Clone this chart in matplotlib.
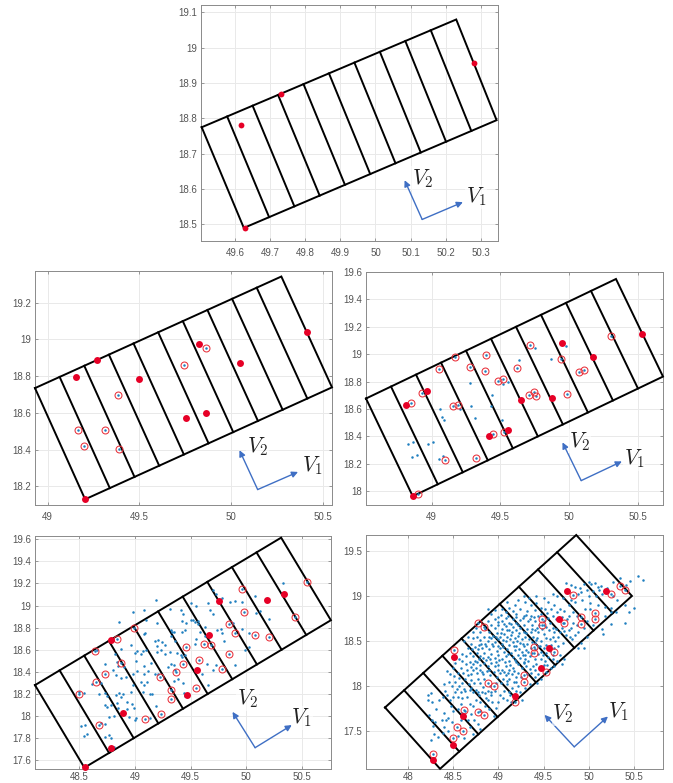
import matplotlib
matplotlib.use('Agg')
import matplotlib.pyplot as plt
import numpy as np

plt.rcParams['font.family'] = ['Liberation Sans', 'DejaVu Sans']
plt.rcParams['mathtext.fontset'] = 'cm'

W, H = 673, 783
BLUE = '#1f7fc0'
ARROW = '#3f6fc4'

# plot boxes in pixels: left, right, top, bottom
boxes = [(201, 498, 5, 241), (35, 332, 271, 505), (366, 663, 272, 505),
         (35, 331, 536, 769), (366, 663, 535, 769)]
xlims = [(49.503, 50.349), (48.931, 50.549), (48.522, 50.682), (48.101, 50.761), (47.53, 50.826)]
ylims = [(18.453, 19.121), (18.099, 19.372), (17.90, 19.60), (17.519, 19.63), (17.079, 19.677)]
xticks = [[49.6, 49.7, 49.8, 49.9, 50, 50.1, 50.2, 50.3], [49, 49.5, 50, 50.5],
          [49, 49.5, 50, 50.5], [48.5, 49, 49.5, 50, 50.5], [48, 48.5, 49, 49.5, 50, 50.5]]
yticks = [[18.5, 18.6, 18.7, 18.8, 18.9, 19, 19.1], [18.2, 18.4, 18.6, 18.8, 19, 19.2],
          [18, 18.2, 18.4, 18.6, 18.8, 19, 19.2, 19.4, 19.6],
          [17.6, 17.8, 18, 18.2, 18.4, 18.6, 18.8, 19, 19.2, 19.4, 19.6],
          [17.5, 18, 18.5, 19, 19.5]]
# gap under the x axis, the bottom row sits close to the image edge
xpads = [5, 5, 5, 2.5, 2.5]

# grid corners: left, top, right, bottom
corners = [[(49.505, 18.775), (50.23, 19.08), (50.345, 18.795), (49.625, 18.49)],
           [(48.931, 18.735), (50.273, 19.342), (50.549, 18.739), (49.204, 18.13)],
           [(48.522, 18.677), (50.34, 19.549), (50.682, 18.837), (48.862, 17.964)],
           [(48.101, 18.279), (50.313, 19.615), (50.76, 18.867), (48.545, 17.531)],
           [(47.741, 17.762), (49.863, 19.677), (50.481, 19.0), (48.352, 17.081)]]
n_cells = 10

# V1 / V2 arrows: origin, V1 tip, V2 tip, V1 label, V2 label
arrows = [[(50.133, 18.514), (50.249, 18.563), (50.083, 18.625), (50.287, 18.578), (50.133, 18.63)],
          [(50.144, 18.183), (50.364, 18.279), (50.045, 18.397), (50.44, 18.312), (50.144, 18.415)],
          [(50.087, 18.078), (50.383, 18.218), (49.951, 18.357), (50.473, 18.235), (50.073, 18.364)],
          [(50.079, 17.712), (50.409, 17.917), (49.876, 18.037), (50.499, 17.983), (50.01, 18.152)],
          [(49.841, 17.325), (50.215, 17.662), (49.511, 17.68), (50.333, 17.72), (49.715, 17.69)]]

red_1 = [(49.618, 18.78), (49.73, 18.87), (50.28, 18.958), (49.627, 18.49)]
open_1 = []
dots_1 = []

red_2 = [(49.156, 18.797), (49.271, 18.888), (49.498, 18.786), (49.824, 18.975), (50.047, 18.873),
         (50.411, 19.038), (49.753, 18.571), (49.862, 18.598), (49.204, 18.13)]
open_2 = [(49.86, 18.951), (49.745, 18.859), (49.382, 18.696), (49.165, 18.507), (49.311, 18.509),
          (49.198, 18.42), (49.389, 18.406)]
dots_2 = []

red_3 = [(48.816, 18.629), (48.968, 18.733), (49.413, 18.40), (49.556, 18.444), (49.646, 18.665),
         (49.874, 18.68), (49.944, 19.085), (50.17, 18.983), (50.529, 19.148), (48.864, 17.964)]
open_3 = [(48.852, 18.643), (48.93, 18.718), (49.051, 18.893), (49.167, 18.983), (49.155, 18.619),
          (49.192, 18.629), (49.277, 18.908), (49.393, 18.998), (49.391, 18.881), (49.481, 18.806),
          (49.517, 18.82), (49.619, 18.896), (49.716, 19.07), (49.706, 18.706), (49.743, 18.721),
          (49.757, 18.694), (49.985, 18.709), (49.942, 18.966), (50.068, 18.869), (50.104, 18.883),
          (50.301, 19.131), (49.447, 18.42), (49.522, 18.43), (49.325, 18.245), (49.1, 18.228),
          (48.9, 17.978)]
dots_3 = [(49.061, 18.604), (49.078, 18.544), (49.09, 18.517), (49.279, 18.791), (49.286, 18.619),
          (49.318, 18.532), (49.437, 18.704), (49.432, 18.624), (49.51, 18.519), (49.517, 18.782),
          (49.553, 18.799), (49.636, 18.956), (49.752, 19.046), (49.864, 18.968), (49.978, 19.061),
          (48.825, 18.342), (48.862, 18.357), (48.973, 18.345), (49.007, 18.359), (48.854, 18.252),
          (48.893, 18.267), (49.051, 18.238), (49.085, 18.255), (49.206, 18.604)]

red_4 = [(48.547, 17.534), (48.781, 17.706), (48.889, 18.026), (48.784, 18.689), (49.468, 18.189),
         (49.555, 18.412), (49.669, 18.732), (49.756, 19.042), (50.187, 19.048), (50.337, 19.106)]
open_4 = [(48.499, 18.201), (48.649, 18.306), (48.637, 18.584), (48.73, 18.376), (48.679, 17.918),
          (48.841, 18.695), (48.877, 18.481), (48.994, 18.801), (49.093, 17.974), (49.234, 18.017),
          (49.228, 18.357), (49.324, 18.149), (49.324, 18.237), (49.372, 18.4), (49.435, 18.466),
          (49.459, 18.62), (49.552, 18.252), (49.579, 18.511), (49.621, 18.656), (49.687, 18.638),
          (49.78, 18.427), (49.846, 18.557), (49.846, 18.834), (49.894, 18.747), (49.963, 19.151),
          (49.981, 18.94), (50.076, 18.732), (50.205, 18.719), (50.433, 18.894), (50.547, 19.214)]
dots_4 = [(48.51, 17.91), (48.55, 17.92), (48.54, 17.82), (48.57, 17.84), (48.5, 18.22), (48.54, 18.21),
          (48.61, 18.29), (48.69, 18.30), (48.68, 18.2), (48.73, 18.21), (48.75, 18.18), (48.73, 18.10),
          (48.75, 18.08), (48.78, 18.1), (48.69, 17.94), (48.73, 17.93), (48.73, 17.81), (48.77, 17.83),
          (48.78, 17.8), (48.81, 17.72), (48.73, 18.47), (48.66, 18.6), (48.86, 18.85), (48.98, 18.94),
          (49.08, 18.96), (49.19, 19.05), (49.1, 18.87), (49.2, 18.84), (49.08, 18.74), (49.09, 18.75),
          (48.96, 18.64), (48.87, 18.61), (48.82, 18.56), (48.84, 18.49), (48.85, 18.45), (48.9, 18.44),
          (48.8, 18.42), (48.83, 18.37), (48.87, 18.34), (48.92, 18.35), (48.98, 18.38), (49.01, 18.5),
          (49.0, 18.57), (49.02, 18.59), (49.05, 18.56), (49.07, 18.59), (49.1, 18.6), (49.02, 18.41),
          (49.08, 18.45), (49.14, 18.48), (49.12, 18.41), (49.08, 18.38), (49.05, 18.31), (49.08, 18.28),
          (49.11, 18.31), (49.07, 18.22), (49.13, 18.2), (49.15, 18.2), (48.98, 18.28), (48.96, 18.22),
          (48.89, 18.2), (48.86, 18.21), (48.83, 18.19), (48.87, 18.17), (48.93, 18.13), (48.97, 18.11),
          (48.93, 18.06), (48.99, 18.07), (48.84, 18.12), (48.85, 18.07), (48.81, 18.0), (48.77, 17.99),
          (48.95, 17.99), (49.0, 17.96), (49.01, 17.98), (49.13, 17.98), (49.19, 18.09), (49.18, 18.38),
          (49.21, 18.38), (49.18, 18.68), (49.2, 18.63), (49.21, 18.69), (49.23, 18.6), (49.24, 18.67),
          (49.27, 18.64), (49.27, 18.56), (49.2, 18.58), (49.31, 18.97), (49.32, 18.78), (49.33, 18.76),
          (49.35, 18.76), (49.32, 18.72), (49.36, 18.68), (49.31, 18.58), (49.38, 18.57), (49.41, 18.55),
          (49.42, 18.53), (49.45, 18.55), (49.32, 18.47), (49.35, 18.46), (49.3, 18.44), (49.36, 18.42),
          (49.39, 18.33), (49.35, 18.32), (49.43, 18.3), (49.44, 18.21), (49.45, 18.18), (49.42, 18.86),
          (49.41, 18.96), (49.43, 18.92), (49.46, 18.84), (49.45, 18.78), (49.42, 18.76), (49.5, 18.87),
          (49.52, 18.87), (49.54, 18.85), (49.57, 18.86), (49.5, 19.02), (49.55, 19.0), (49.57, 18.83),
          (49.58, 18.76), (49.63, 18.72), (49.55, 18.7), (49.54, 18.65), (49.63, 18.81), (49.66, 19.02),
          (49.67, 18.96), (49.7, 18.92), (49.74, 18.78), (49.77, 18.79), (49.78, 18.75), (49.8, 18.68),
          (49.65, 18.47), (49.7, 18.42), (49.73, 18.46), (49.66, 18.28), (49.6, 18.38), (49.9, 18.46),
          (49.7, 19.14), (49.73, 19.1), (49.78, 19.07), (49.9, 19.04), (49.96, 19.03), (49.85, 19.03),
          (49.88, 18.84), (49.96, 18.79), (50.02, 18.75), (49.99, 18.6), (50.02, 18.62), (50.08, 19.09),
          (50.09, 18.93), (50.12, 18.95), (50.2, 18.88), (50.33, 19.2)]

red_5 = [(48.27, 17.174), (48.5, 17.348), (48.611, 17.669), (48.504, 18.327), (49.189, 17.891),
         (49.467, 18.198), (49.556, 18.423), (49.67, 18.741), (49.759, 19.052), (50.193, 19.059)]
open_5 = [(48.27, 17.24), (48.496, 17.418), (48.615, 17.736), (48.544, 17.547), (48.604, 17.503),
          (48.774, 17.717), (48.837, 17.677), (48.889, 18.039), (48.948, 17.998), (48.504, 18.397),
          (48.778, 18.701), (48.837, 18.66), (49.189, 17.828), (49.278, 18.12), (49.278, 18.05),
          (49.393, 18.434), (49.396, 18.368), (49.481, 18.745), (49.485, 18.678), (49.526, 18.157),
          (49.615, 18.383), (49.73, 18.70), (49.822, 19.011), (49.919, 18.763), (49.919, 18.693),
          (50.07, 18.811), (50.07, 18.741), (50.252, 19.018), (50.344, 19.111), (50.404, 19.07)]
dots_5 = [(50.55, 19.22), (50.6, 19.18), (50.35, 19.2), (50.46, 19.17), (50.42, 19.12), (50.27, 19.16),
          (49.75, 19.14), (49.8, 19.12), (49.85, 19.1), (49.9, 19.09), (49.95, 19.13), (50.0, 19.16),
          (50.03, 19.13), (50.07, 19.14), (50.1, 19.1), (50.14, 19.11), (50.2, 19.09), (50.12, 19.07),
          (50.05, 19.05), (49.98, 19.07), (49.92, 19.04), (49.88, 19.02), (50.0, 19.0), (50.08, 19.0),
          (50.15, 19.02), (50.27, 19.0), (50.32, 18.95), (49.6, 19.02), (49.65, 19.0), (49.72, 18.98),
          (49.8, 18.96), (49.85, 18.93), (49.78, 18.9), (49.93, 18.95), (50.02, 18.92), (50.1, 18.9),
          (50.18, 18.88), (50.25, 18.87), (50.3, 18.82), (50.4, 18.9), (50.5, 18.87), (50.45, 18.82),
          (50.25, 18.69), (50.16, 18.58), (50.15, 18.63), (50.05, 18.68), (49.98, 18.72), (49.95, 18.65),
          (49.98, 18.55), (49.88, 18.6), (49.92, 18.48), (49.88, 18.42), (49.95, 18.42), (49.82, 18.52),
          (49.78, 18.62), (49.75, 18.57), (49.72, 18.48), (49.68, 18.35), (49.73, 18.3), (49.65, 18.28),
          (49.7, 18.25), (49.62, 18.22), (49.58, 18.2), (49.6, 18.3), (49.55, 18.32), (49.52, 18.28),
          (49.47, 18.3), (49.42, 18.25), (49.38, 18.22), (49.33, 18.28), (49.36, 18.15), (49.32, 18.13),
          (49.4, 18.1), (49.47, 18.08), (49.43, 18.03), (49.35, 18.02), (49.3, 17.98), (49.22, 18.0),
          (49.24, 17.93), (49.2, 18.05), (49.15, 17.98), (49.1, 18.02), (49.06, 17.95), (49.02, 17.9),
          (49.1, 17.85), (49.14, 17.82), (49.0, 17.82), (48.97, 17.76), (48.93, 17.82), (48.88, 17.85),
          (48.9, 17.75), (48.85, 17.78), (48.95, 17.67), (48.8, 17.82), (48.75, 17.85), (48.72, 17.78),
          (48.68, 17.8), (48.73, 17.62), (48.77, 17.58), (48.8, 17.52), (48.72, 17.47), (48.68, 17.55),
          (48.66, 17.62), (48.63, 17.72), (48.58, 17.8), (48.55, 17.75), (48.5, 17.72), (48.47, 17.78),
          (48.44, 17.65), (48.48, 17.6), (48.42, 17.62), (48.4, 17.55), (48.37, 17.62), (48.44, 17.5),
          (48.38, 17.48), (48.3, 17.6), (48.26, 17.62), (48.23, 17.68), (48.27, 17.56), (48.28, 17.47),
          (48.25, 17.4), (48.33, 17.43), (48.22, 17.9), (48.25, 17.92), (48.22, 17.85), (48.26, 17.82),
          (48.31, 17.75), (48.34, 17.85), (48.38, 17.88), (48.41, 17.95), (48.43, 17.9), (48.46, 17.85),
          (48.5, 17.88), (48.52, 17.93), (48.55, 17.88), (48.58, 17.93), (48.6, 17.87), (48.63, 17.95),
          (48.65, 17.88), (48.68, 17.96), (48.72, 17.93), (48.75, 17.96), (48.78, 17.9), (48.82, 17.93),
          (48.85, 17.92), (48.88, 17.95), (48.92, 17.93), (48.96, 17.95), (48.4, 18.02), (48.45, 18.05),
          (48.48, 18.0), (48.52, 18.05), (48.56, 18.0), (48.6, 18.03), (48.63, 18.08), (48.67, 18.02),
          (48.7, 18.07), (48.73, 18.03), (48.77, 18.08), (48.8, 18.03), (48.84, 18.08), (48.43, 18.17),
          (48.46, 18.13), (48.5, 18.2), (48.55, 18.15), (48.58, 18.2), (48.61, 18.14), (48.65, 18.18),
          (48.69, 18.13), (48.72, 18.18), (48.76, 18.14), (48.8, 18.18), (48.83, 18.13), (48.87, 18.17),
          (48.91, 18.12), (48.95, 18.16), (48.98, 18.1), (49.02, 18.14), (49.05, 18.08), (49.08, 18.12),
          (49.12, 18.08), (49.15, 18.13), (49.19, 18.1), (49.22, 18.15), (49.26, 18.2), (49.16, 18.2),
          (49.12, 18.18), (49.08, 18.22), (49.04, 18.18), (49.0, 18.23), (48.96, 18.22), (48.92, 18.26),
          (48.88, 18.22), (48.84, 18.26), (48.8, 18.23), (48.76, 18.27), (48.72, 18.24), (48.68, 18.27),
          (48.64, 18.24), (48.6, 18.28), (48.56, 18.3), (48.52, 18.26), (48.6, 18.36), (48.64, 18.33),
          (48.68, 18.37), (48.72, 18.33), (48.76, 18.37), (48.8, 18.33), (48.84, 18.37), (48.88, 18.32),
          (48.92, 18.36), (48.96, 18.31), (49.0, 18.35), (49.04, 18.3), (49.08, 18.33), (49.12, 18.28),
          (49.16, 18.32), (49.2, 18.27), (49.24, 18.31), (49.28, 18.27), (49.3, 18.34), (49.26, 18.38),
          (49.22, 18.35), (49.18, 18.4), (49.14, 18.37), (49.1, 18.41), (49.06, 18.38), (49.02, 18.42),
          (48.98, 18.39), (48.94, 18.44), (48.9, 18.41), (48.86, 18.45), (48.82, 18.42), (48.78, 18.46),
          (48.74, 18.43), (48.7, 18.47), (48.66, 18.42), (48.62, 18.5), (48.66, 18.55), (48.72, 18.53),
          (48.76, 18.55), (48.8, 18.51), (48.84, 18.54), (48.88, 18.5), (48.92, 18.53), (48.96, 18.49),
          (49.0, 18.52), (49.04, 18.47), (49.08, 18.5), (49.12, 18.46), (49.16, 18.49), (49.2, 18.45),
          (49.24, 18.48), (49.28, 18.44), (49.32, 18.47), (49.36, 18.42), (49.33, 18.38), (49.4, 18.48),
          (49.44, 18.44), (49.47, 18.5), (49.43, 18.53), (49.38, 18.55), (49.34, 18.52), (49.3, 18.55),
          (49.26, 18.52), (49.22, 18.56), (49.18, 18.53), (49.14, 18.57), (49.1, 18.54), (49.06, 18.58),
          (49.02, 18.55), (48.98, 18.59), (48.94, 18.56), (48.9, 18.6), (48.85, 18.63), (48.8, 18.6),
          (48.75, 18.64), (48.72, 18.6), (48.88, 18.72), (48.92, 18.68), (48.96, 18.64), (49.0, 18.68),
          (49.04, 18.63), (49.08, 18.67), (49.12, 18.62), (49.16, 18.66), (49.2, 18.62), (49.24, 18.65),
          (49.28, 18.6), (49.32, 18.63), (49.36, 18.6), (49.4, 18.62), (49.44, 18.6), (49.5, 18.58),
          (49.53, 18.53), (49.5, 18.42), (49.53, 18.46), (49.57, 18.52), (49.6, 18.55), (49.63, 18.5),
          (49.66, 18.55), (49.68, 18.6), (49.64, 18.63), (49.6, 18.65), (49.56, 18.62), (49.53, 18.66),
          (49.5, 18.72), (49.45, 18.68), (49.41, 18.72), (49.37, 18.68), (49.33, 18.72), (49.28, 18.68),
          (49.24, 18.73), (49.2, 18.7), (49.16, 18.74), (49.12, 18.7), (49.08, 18.76), (49.04, 18.72),
          (49.0, 18.77), (48.96, 18.74), (48.92, 18.8), (48.96, 18.84), (48.88, 18.85), (49.04, 18.85),
          (49.08, 18.82), (49.12, 18.87), (49.16, 18.83), (49.2, 18.8), (49.24, 18.86), (49.28, 18.78),
          (49.32, 18.83), (49.36, 18.78), (49.4, 18.84), (49.44, 18.78), (49.55, 18.76), (49.6, 18.78),
          (49.64, 18.74), (49.58, 18.85), (49.52, 18.85), (49.47, 18.87), (49.42, 18.92), (49.36, 18.9),
          (49.3, 18.93), (49.22, 18.95), (49.18, 18.9), (49.1, 18.93), (49.28, 19.0), (49.34, 18.98),
          (49.42, 19.0), (49.5, 18.98), (49.55, 18.93), (49.62, 18.9), (49.68, 18.86), (49.73, 18.83),
          (49.78, 18.78), (49.83, 18.82), (49.87, 18.78), (49.83, 18.7), (49.87, 18.68), (49.72, 18.7),
          (49.62, 18.42), (49.66, 18.45), (49.6, 18.35), (49.47, 18.38), (49.44, 18.36), (49.4, 18.3),
          (49.28, 18.26), (49.26, 17.85), (49.12, 17.93), (48.58, 17.62), (48.4, 17.7), (48.55, 17.45),
          (48.62, 17.42), (50.4, 18.7), (50.25, 18.82), (50.18, 18.78), (50.02, 18.85), (49.96, 18.86),
          (48.93, 18.47), (48.99, 18.45), (49.05, 18.43), (49.11, 18.36), (49.17, 18.44), (49.23, 18.41),
          (49.27, 18.35), (49.31, 18.4), (49.37, 18.37), (49.41, 18.41), (49.35, 18.33), (49.29, 18.3),
          (49.22, 18.24), (49.18, 18.29), (49.13, 18.23), (49.07, 18.27), (49.01, 18.29), (48.97, 18.27),
          (48.91, 18.3), (48.86, 18.29), (48.83, 18.31), (48.78, 18.3), (48.74, 18.28), (48.7, 18.21),
          (48.75, 18.2), (48.82, 18.16), (48.9, 18.18), (48.99, 18.18), (49.06, 18.16), (49.11, 18.15),
          (49.17, 18.17), (49.25, 18.1), (49.31, 18.22), (49.35, 18.19), (49.41, 18.18), (49.44, 18.13),
          (49.5, 18.23), (49.54, 18.23), (49.49, 18.34), (49.57, 18.39), (49.53, 18.37), (49.58, 18.46),
          (49.46, 18.45), (49.42, 18.51), (49.37, 18.49), (49.27, 18.47), (49.21, 18.5), (49.13, 18.52),
          (49.05, 18.51), (48.97, 18.54), (48.89, 18.55), (48.85, 18.47), (48.81, 18.47), (48.77, 18.41),
          (48.71, 18.41), (49.03, 18.59), (49.09, 18.62), (49.15, 18.6), (49.23, 18.59), (49.31, 18.59),
          (49.37, 18.63), (49.43, 18.65), (49.48, 18.63), (49.51, 18.68), (49.57, 18.7), (49.35, 18.74),
          (49.27, 18.75), (49.19, 18.77), (49.11, 18.78), (49.03, 18.79), (48.99, 18.71), (49.06, 18.69),
          (49.14, 18.69), (49.22, 18.68), (49.31, 18.79), (49.39, 18.77), (49.47, 18.8), (49.54, 18.81),
          (49.65, 18.82), (49.7, 18.77), (49.76, 18.74), (49.71, 18.65), (49.73, 18.61), (49.79, 18.55),
          (49.62, 18.6), (49.81, 18.65), (49.85, 18.57), (48.66, 18.12), (48.56, 18.09), (48.51, 18.11),
          (48.7, 17.98), (48.62, 17.97), (48.54, 17.97), (48.77, 17.93), (48.83, 17.99), (48.91, 18.0),
          (48.97, 18.03), (49.03, 18.03), (49.09, 18.06), (49.17, 18.05), (48.59, 17.7), (48.69, 17.69),
          (48.92, 17.9), (48.86, 17.87), (48.8, 17.72), (49.05, 17.87), (49.13, 17.9), (49.2, 17.95)]

panels = [(red_1, open_1, dots_1), (red_2, open_2, dots_2), (red_3, open_3, dots_3),
          (red_4, open_4, dots_4), (red_5, open_5, dots_5)]


def draw_grid(ax, corner):
    left, top, right, bottom = [np.array(c) for c in corner]
    outline = np.array([left, top, right, bottom, left])
    ax.plot(outline[:, 0], outline[:, 1], color='k', lw=1.4, solid_joinstyle='miter', clip_on=False, zorder=3)
    for i in range(1, n_cells):
        frac = i / n_cells
        a = left + (top - left) * frac
        b = bottom + (right - bottom) * frac
        ax.plot([a[0], b[0]], [a[1], b[1]], color='k', lw=1.4, zorder=3)


def draw_arrows(ax, arrow):
    origin, tip1, tip2, lab1, lab2 = arrow
    for tip in (tip1, tip2):
        ax.annotate('', xy=tip, xytext=origin, zorder=6,
                    arrowprops=dict(arrowstyle='-|>', color=ARROW, lw=1.0, shrinkA=0, shrinkB=0, mutation_scale=9))
    ax.text(*lab1, r'$V_1$', fontsize=15.5, color='#222222', ha='center', va='center', zorder=7,
            bbox=dict(fc='white', ec='none', pad=0.5, alpha=0.6))
    ax.text(*lab2, r'$V_2$', fontsize=15.5, color='#222222', ha='center', va='center', zorder=7,
            bbox=dict(fc='white', ec='none', pad=0.5, alpha=0.6))


fig = plt.figure(figsize=(W / 100, H / 100), dpi=100)

for i, (red, circ, dots) in enumerate(panels):
    l, r, t, b = boxes[i]
    ax = fig.add_axes([l / W, 1 - b / H, (r - l) / W, (b - t) / H])
    ax.set_xlim(xlims[i])
    ax.set_ylim(ylims[i])
    ax.set_xticks(xticks[i])
    ax.set_yticks(yticks[i])
    ax.set_xticklabels([f'{v:g}' for v in xticks[i]])
    ax.set_yticklabels([f'{v:g}' for v in yticks[i]])
    ax.tick_params(direction='in', length=2.5, width=0.5, color='#777777', labelcolor='#555555',
                   labelsize=7, top=True, right=True, pad=3)
    ax.tick_params(axis='x', pad=xpads[i])
    ax.grid(True, color='#e9e9e9', lw=0.7)
    ax.set_axisbelow(True)
    for sp in ax.spines.values():
        sp.set_color('#8a8a8a')
        sp.set_linewidth(0.7)

    draw_grid(ax, corners[i])
    if dots:
        d = np.array(dots)
        ax.plot(d[:, 0], d[:, 1], 'o', color=BLUE, ms=1.8, mew=0, zorder=4)
    if circ:
        c = np.array(circ)
        ax.plot(c[:, 0], c[:, 1], 'o', color=BLUE, ms=1.8, mew=0, zorder=4)
        ax.plot(c[:, 0], c[:, 1], 'o', mfc='none', mec='#e8303a', mew=0.75, ms=5.0, zorder=5)
    if red:
        e = np.array(red)
        ms = 4.2 if i == 0 else 5.0
        ax.plot(e[:, 0], e[:, 1], 'o', color='#e60026', ms=ms, mew=0, zorder=5, clip_on=False)
    draw_arrows(ax, arrows[i])

fig.savefig('out.png', dpi=100)
